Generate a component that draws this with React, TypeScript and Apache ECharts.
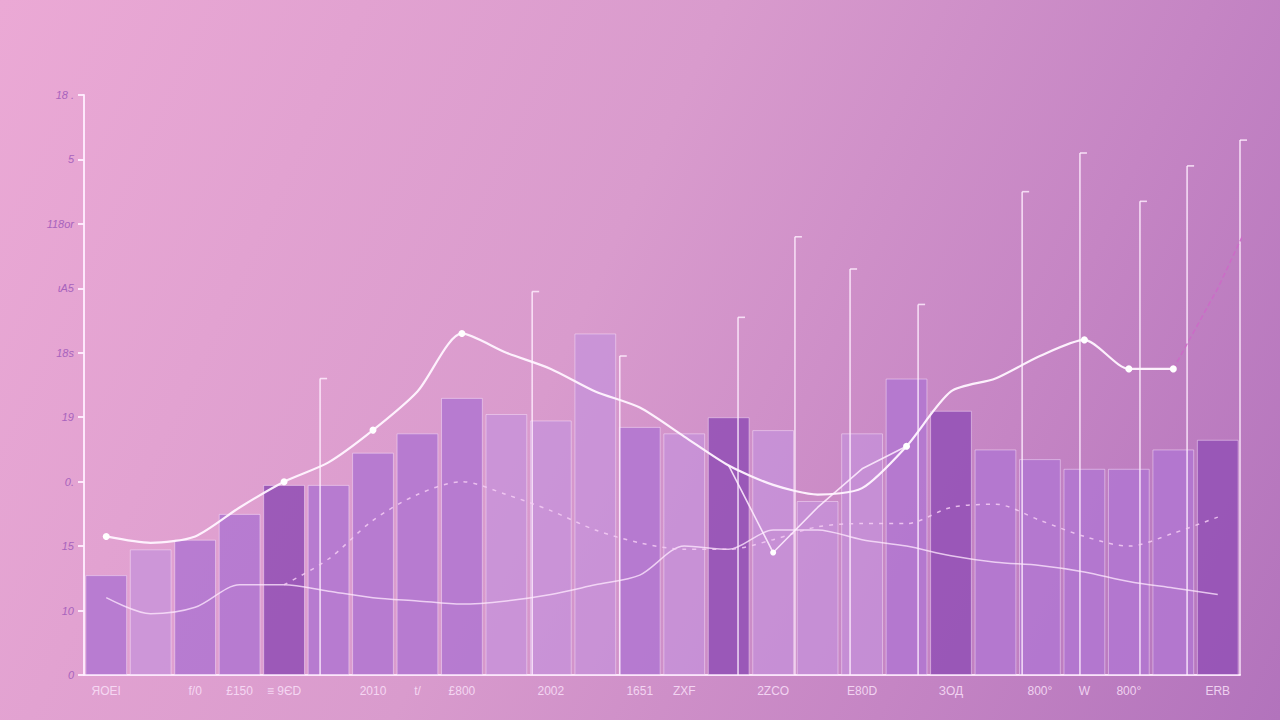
import React, { useEffect, useRef } from "react";
import * as echarts from "echarts";

const categories = Array.from({ length: 26 }, (_, i) => `c${i}`);
const xTickLabels: Record<number, string> = {
  0: "ЯOEI", 2: "f/0", 3: "£150", 4: "≡ 9ЄD", 6: "2010", 7: "t/", 8: "£800",
  10: "2002", 12: "1651", 13: "ZXF", 15: "2ZCO", 17: "E80D", 19: "ЗОД",
  21: "800°", 22: "W", 23: "800°", 25: "ERB",
};
const yTickLabels = ["0", "10", "15", "0.", "19", "18s", "ɩA5", "118or", "5", "18 ."];

const barValues = [31, 39, 42, 50, 59, 59, 69, 75, 86, 81, 79, 106, 77, 75, 80, 76, 54, 75, 92, 82, 70, 67, 64, 64, 70, 73];
const mainLine = [43, 41, 43, 52, 60, 66, 76, 88, 106, 100, 95, 88, 83, 74, 65, 59, 56, 58, 71, 88, 92, 99, 104, 95, 95, null];
const dipLine = [null, null, null, null, null, null, null, null, null, null, null, null, null, null, 65, 38, 52, 64, 71, null, null, null, null, null, null, null];
const midLine = [null, null, null, null, 28, 36, 48, 56, 60, 56, 51, 45, 41, 39, 39, 42, 46, 47, 47, 52, 53, 48, 43, 40, 44, 49];
const lowLine = [24, 19, 21, 28, 28, 26, 24, 23, 22, 23, 25, 28, 31, 40, 39, 45, 45, 42, 40, 37, 35, 34, 32, 29, 27, 25];
const whiskers = [
  [5.31, 92], [10.08, 119], [12.05, 99], [14.71, 111], [15.99, 136], [17.23, 126],
  [18.76, 115], [21.1, 150], [22.4, 162], [23.75, 147], [24.81, 158], [26, 166],
];
const trendLine = [[24.5, 95], [25.5, 120], [26.8, 158]];

// styles (kept separate from data)
const barTones = ["m", "l", "m", "m", "d", "m", "m", "m", "m", "l", "l", "l", "m", "l", "d", "l", "l", "l", "m", "d", "m", "m", "m", "m", "m", "d"];
const toneColor: Record<string, string> = {
  d: "rgba(150,84,182,0.92)",
  m: "rgba(178,118,208,0.88)",
  l: "rgba(196,146,220,0.7)",
};
const mainSymbolIdx = new Set([0, 4, 6, 8, 18, 22, 23, 24]);

export default function App() {
  const ref = useRef<HTMLDivElement>(null);
  useEffect(() => {
    if (!ref.current) return;
    const chart = echarts.init(ref.current, undefined, { renderer: "svg" });
    chart.setOption({
      animation: false,
      backgroundColor: "transparent",
      grid: { left: 84, right: 40, top: 95, bottom: 45 },
      xAxis: [
        {
          type: "category",
          data: categories,
          boundaryGap: true,
          axisLine: { lineStyle: { color: "rgba(255,240,255,0.9)", width: 2 } },
          axisTick: { show: false },
          axisLabel: {
            interval: 0,
            color: "rgba(250,225,250,0.85)",
            fontSize: 12,
            margin: 10,
            formatter: (_v: string, i: number) => xTickLabels[i] ?? "",
          },
          splitLine: { show: false },
        },
        { type: "value", min: 0, max: 26, show: false },
      ],
      yAxis: {
        type: "value",
        min: 0,
        max: 180,
        interval: 20,
        axisLine: { show: true, lineStyle: { color: "rgba(255,240,255,0.9)", width: 2 } },
        axisTick: { show: true, length: 6, lineStyle: { color: "rgba(255,240,255,0.9)", width: 2 } },
        axisLabel: {
          color: "#a863bd",
          fontSize: 11,
          fontStyle: "italic",
          margin: 10,
          formatter: (v: number) => yTickLabels[Math.round(v / 20)] ?? "",
        },
        splitLine: { show: false },
      },
      series: [
        {
          type: "bar",
          data: barValues.map((v, i) => ({
            value: v,
            itemStyle: { color: toneColor[barTones[i]] },
          })),
          barCategoryGap: "6%",
          itemStyle: { borderColor: "rgba(255,235,255,0.45)", borderWidth: 1 },
          z: 1,
        },
        {
          type: "custom",
          xAxisIndex: 1,
          data: whiskers,
          encode: { x: 0, y: 1 },
          renderItem: (_p: any, api: any) => {
            const top = api.coord([api.value(0), api.value(1)]);
            const bot = api.coord([api.value(0), 0]);
            return {
              type: "group",
              children: [
                {
                  type: "line",
                  shape: { x1: top[0], y1: top[1], x2: bot[0], y2: bot[1] },
                  style: { stroke: "rgba(255,240,255,0.8)", lineWidth: 1.6 },
                },
                {
                  type: "line",
                  shape: { x1: top[0], y1: top[1], x2: top[0] + 7, y2: top[1] },
                  style: { stroke: "rgba(255,240,255,0.8)", lineWidth: 1.6 },
                },
              ],
            };
          },
          z: 3,
        },
        {
          type: "line",
          data: lowLine,
          smooth: 0.3,
          symbol: "none",
          lineStyle: { color: "rgba(255,235,255,0.75)", width: 1.5 },
          z: 4,
        },
        {
          type: "line",
          data: midLine,
          smooth: 0.3,
          symbol: "none",
          lineStyle: { color: "rgba(245,205,245,0.85)", width: 1.5, type: [4, 6] },
          z: 4,
        },
        {
          type: "line",
          data: dipLine,
          symbol: "circle",
          showAllSymbol: true,
          symbolSize: (_v: any, p: any) => (p.dataIndex === 15 ? 6 : 0),
          itemStyle: { color: "#fff" },
          lineStyle: { color: "rgba(255,240,255,0.85)", width: 1.6 },
          z: 5,
        },
        {
          type: "line",
          data: mainLine,
          smooth: 0.25,
          symbol: "circle",
          showAllSymbol: true,
          symbolSize: (_v: any, p: any) => (mainSymbolIdx.has(p.dataIndex) ? 7 : 0),
          itemStyle: { color: "#fff" },
          lineStyle: { color: "rgba(255,245,255,0.95)", width: 2.2 },
          z: 6,
        },
        {
          type: "line",
          xAxisIndex: 1,
          data: trendLine,
          clip: false,
          symbol: "none",
          lineStyle: { color: "rgba(205,105,200,0.9)", width: 1.5, type: [5, 3] },
          z: 5,
        },
      ],
    });
    return () => chart.dispose();
  }, []);
  return (
    <div
      style={{
        position: "fixed",
        left: 0,
        top: 0,
        width: 1280,
        height: 720,
        background: "linear-gradient(115deg, #eba9d5 0%, #d99bcd 45%, #c585c4 75%, #b273bc 100%)",
      }}
    >
      <div ref={ref} style={{ width: 1280, height: 720 }} />
    </div>
  );
}
